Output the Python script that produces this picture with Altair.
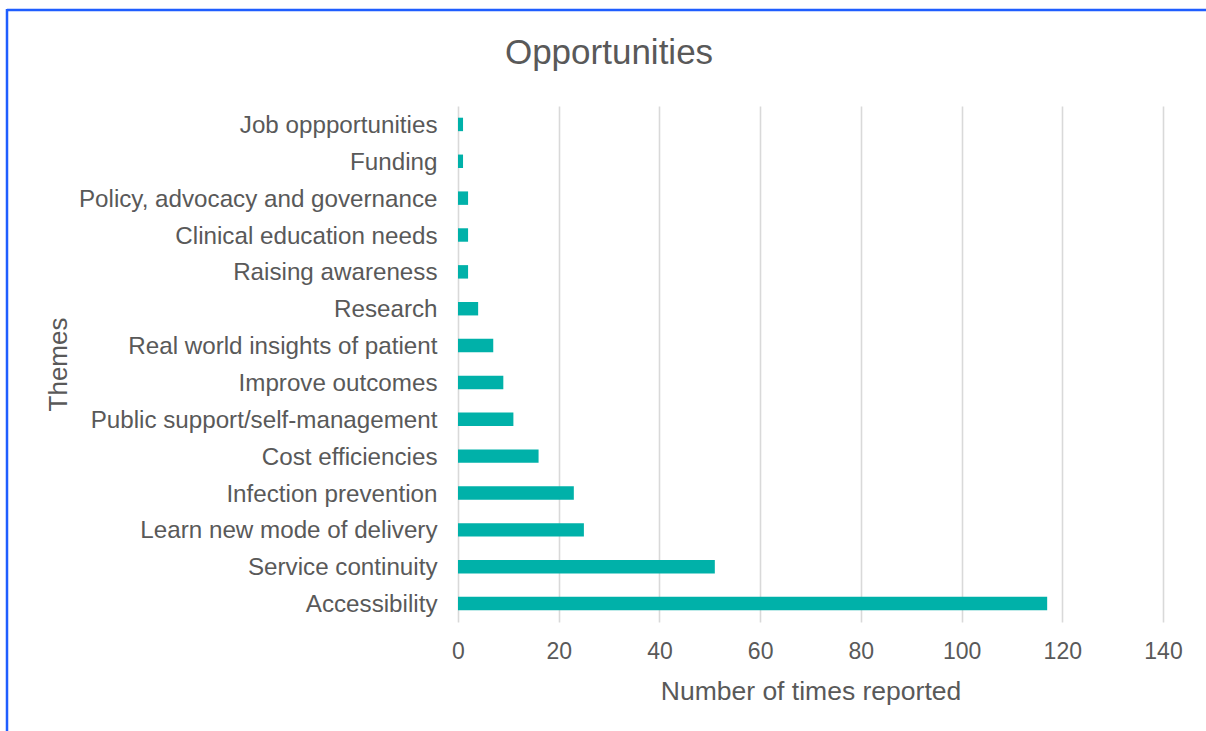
import altair as alt
import pandas as pd

themes = [
    "Job oppportunities",
    "Funding",
    "Policy, advocacy and governance",
    "Clinical education needs",
    "Raising awareness",
    "Research",
    "Real world insights of patient",
    "Improve outcomes",
    "Public support/self-management",
    "Cost efficiencies",
    "Infection prevention",
    "Learn new mode of delivery",
    "Service continuity",
    "Accessibility",
]
counts = [1, 1, 2, 2, 2, 4, 7, 9, 11, 16, 23, 25, 51, 117]
x_ticks = [0, 20, 40, 60, 80, 100, 120, 140]
chart_title = ["Opportunities"]

df = pd.DataFrame({"Theme": themes, "Count": counts})

TEXT = "#595959"
FONT = "Liberation Sans"

bars = alt.Chart(df).mark_bar(color="#00B1A9").encode(
    x=alt.X(
        "Count:Q",
        scale=alt.Scale(domain=[0, 140], nice=False),
        axis=alt.Axis(
            values=x_ticks,
            title="Number of times reported",
            grid=True,
            gridColor="#D9D9D9",
            gridWidth=1.6,
            domain=False,
            ticks=False,
            labelFlush=False,
            labelPadding=18,
            labelFontSize=23,
            labelColor=TEXT,
            labelFont=FONT,
            titleFontSize=26.5,
            titleFontWeight="normal",
            titleColor=TEXT,
            titleFont=FONT,
            titlePadding=15,
        ),
    ),
    y=alt.Y(
        "Theme:N",
        sort=themes,
        scale=alt.Scale(paddingInner=0.635, paddingOuter=0.3175),
        axis=alt.Axis(
            title="Themes",
            domain=False,
            ticks=False,
            grid=False,
            labelPadding=21,
            labelOffset=1.5,
            labelFontSize=24.2,
            labelColor=TEXT,
            labelFont=FONT,
            labelLimit=500,
            titleFontSize=26,
            titleFontWeight="normal",
            titleColor=TEXT,
            titleFont=FONT,
            titleX=-400,
            titleY=258,
            titleBaseline="middle",
            titleAlign="center",
        ),
    ),
)

one = pd.DataFrame({"a": [0]})
top_border = alt.Chart(one).mark_rule(color="#1F5EFF", strokeWidth=2.5).encode(
    x=alt.value(-451), x2=alt.value(760), y=alt.value(-96)
)
left_border = alt.Chart(one).mark_rule(color="#1F5EFF", strokeWidth=2.5).encode(
    x=alt.value(-451), y=alt.value(-97), y2=alt.value(640)
)
title_text = alt.Chart(pd.DataFrame({"t": chart_title})).mark_text(
    fontSize=35, font=FONT, color=TEXT, align="center", baseline="alphabetic"
).encode(text="t:N", x=alt.value(151), y=alt.value(-42))

chart = alt.layer(bars, top_border, left_border, title_text).properties(
    width=705,
    height=516,
    autosize=alt.AutoSizeParams(type="none"),
    padding={"left": 458, "top": 106, "right": 43, "bottom": 109},
).configure(background="white", view=alt.ViewConfig(stroke=None))

chart.save("out.html", embed_options={"renderer": "svg", "actions": False})
